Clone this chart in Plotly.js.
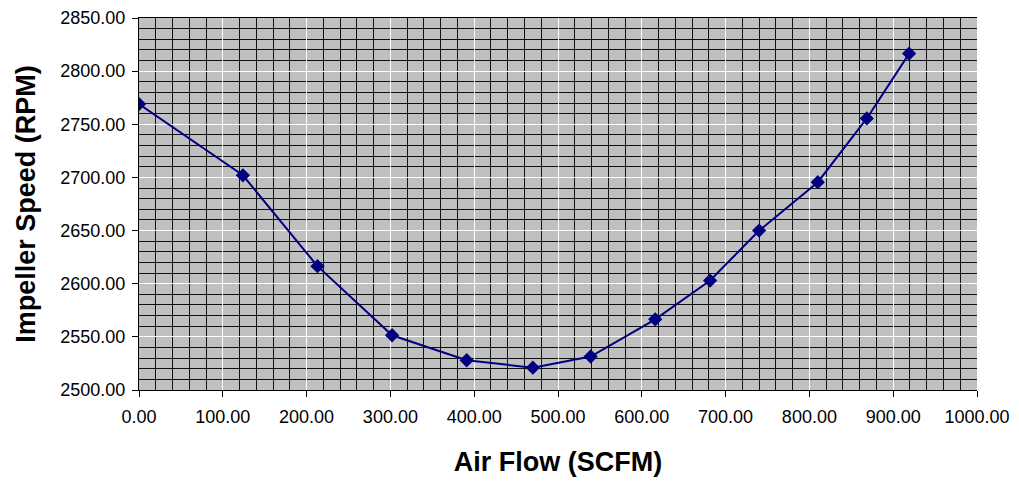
<!DOCTYPE html>
<html>
<head>
<meta charset="utf-8">
<script src="https://cdn.plot.ly/plotly-3.0.1.min.js"></script>
<style>html,body{margin:0;padding:0;background:#fff;}#chart{width:1019px;height:482px;}</style>
</head>
<body>
<div id="chart"></div>
<script>
var airFlow = [0, 124, 213, 302, 391, 470, 539, 616, 681.5, 740, 810, 868.5, 919];
var impellerSpeed = [2769, 2702, 2616.5, 2551.5, 2528, 2521, 2531.5, 2566.5, 2603, 2650, 2695.5, 2755.5, 2816.5];
var xTitle = 'Air Flow (SCFM)';
var yTitle = 'Impeller Speed (RPM)';

var font = 'Arial, "Liberation Sans", sans-serif';
var trace = {
  x: airFlow,
  y: impellerSpeed,
  type: 'scatter',
  mode: 'lines+markers',
  line: {color: '#000080', width: 2},
  marker: {symbol: 'diamond', size: 11, color: '#000080'},
  hoverinfo: 'x+y'
};
var layout = {
  width: 1019,
  height: 482,
  margin: {l: 139, r: 42, t: 18, b: 92},
  paper_bgcolor: '#ffffff',
  plot_bgcolor: '#c0c0c0',
  showlegend: false,
  font: {family: font, color: '#000000', size: 18},
  xaxis: {
    range: [0, 1000],
    dtick: 100,
    tick0: 0,
    tickformat: '.2f',
    showgrid: true,
    gridcolor: '#ffffff',
    gridwidth: 1,
    minor: {dtick: 20, showgrid: true, gridcolor: '#111111', gridwidth: 1, ticks: ''},
    showline: true,
    linecolor: '#000000',
    linewidth: 1,
    mirror: true,
    ticks: 'outside',
    ticklen: 6,
    tickcolor: '#000000',
    zeroline: false,
    ticklabelstandoff: 4,
    tickfont: {family: font, size: 18},
    title: {text: xTitle, font: {family: font, size: 27, weight: 'bold'}, standoff: 26}
  },
  yaxis: {
    range: [2500, 2850],
    dtick: 50,
    tick0: 2500,
    tickformat: '.2f',
    showgrid: true,
    gridcolor: '#ffffff',
    gridwidth: 1,
    minor: {dtick: 10, showgrid: true, gridcolor: '#111111', gridwidth: 1, ticks: ''},
    showline: true,
    linecolor: '#000000',
    linewidth: 1,
    ticks: 'outside',
    ticklen: 6,
    tickcolor: '#000000',
    zeroline: false,
    ticklabelstandoff: 3,
    tickfont: {family: font, size: 18},
    title: {text: yTitle, font: {family: font, size: 27, weight: 'bold'}, standoff: 16}
  }
};
Plotly.newPlot('chart', [trace], layout, {displayModeBar: false, staticPlot: true});
</script>
</body>
</html>
